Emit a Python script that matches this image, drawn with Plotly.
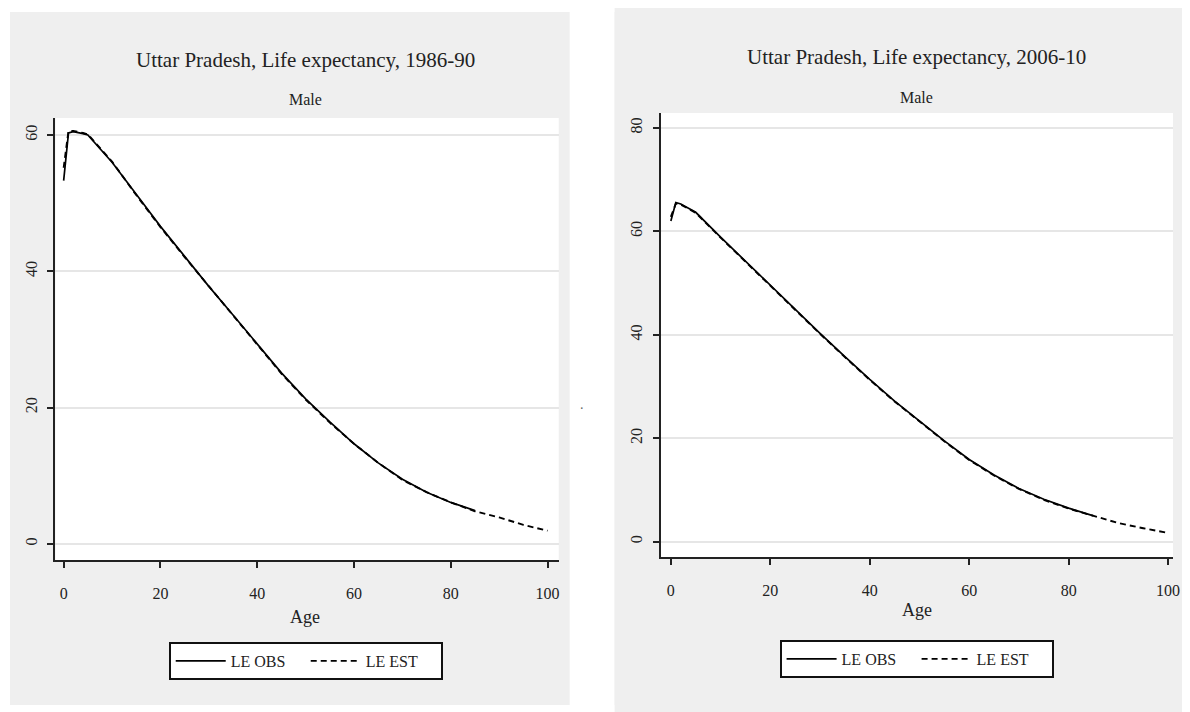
import plotly.graph_objects as go

# ---------------- data ----------------
ages_obs = [0, 1, 2, 3, 4, 5, 10, 15, 20, 25, 30, 35, 40, 45, 50, 55, 60, 65, 70, 75, 80, 85]
ages_est = [0, 1, 2, 3, 4, 5, 10, 15, 20, 25, 30, 35, 40, 45, 50, 55, 60, 65, 70, 75, 80, 85, 90, 95, 100]

# 1986-90, male
le_obs_1986 = [53.3, 60.3, 60.5, 60.4, 60.2, 60.0, 56.0, 51.3, 46.6, 42.2, 37.8, 33.6, 29.3, 25.1,
               21.3, 17.9, 14.7, 11.9, 9.5, 7.6, 6.1, 4.9]
le_est_1986 = [55.2, 60.6, 60.6, 60.5, 60.3, 60.1, 56.1, 51.2, 46.5, 42.1, 37.8, 33.5, 29.2, 25.0,
               21.2, 17.8, 14.7, 11.9, 9.4, 7.6, 6.1, 4.8, 3.9, 2.8, 1.95]

# 2006-10, male
le_obs_2006 = [62.0, 65.6, 65.3, 64.8, 64.2, 63.7, 58.9, 54.2, 49.5, 44.9, 40.3, 35.8, 31.4, 27.2,
               23.3, 19.5, 15.9, 12.9, 10.3, 8.2, 6.5, 5.0]
le_est_2006 = [62.8, 65.4, 65.2, 64.7, 64.2, 63.6, 58.8, 54.1, 49.4, 44.8, 40.2, 35.7, 31.3, 27.1,
               23.2, 19.4, 15.8, 12.8, 10.2, 8.1, 6.4, 5.0, 3.6, 2.6, 1.7]

x_ticks = [0, 20, 40, 60, 80, 100]
y_ticks_left = [0, 20, 40, 60]
y_ticks_right = [0, 20, 40, 60, 80]

titles = ["Uttar Pradesh, Life expectancy, 1986-90", "Uttar Pradesh, Life expectancy, 2006-10"]
subtitle = "Male"
x_title = "Age"
series_names = ["LE OBS", "LE EST"]

# ---------------- figure ----------------
# the page body has an 8px default margin, so the figure is drawn 8px in from the window edge
OFF = 8
W, H = 1190 - OFF, 712 - OFF
FONT = "Liberation Serif"
TXT = "#222222"
PANEL = "#efefef"

def px(x):
    return (x - OFF) / W

def py(y):
    return 1 - (y - OFF) / H

fig = go.Figure()

solid = dict(color="black", width=1.7)
dashed = dict(color="black", width=1.9, dash="6px,4px")

fig.add_trace(go.Scatter(x=ages_obs, y=le_obs_1986, mode="lines", line=solid,
                         name=series_names[0], xaxis="x", yaxis="y", legend="legend"))
fig.add_trace(go.Scatter(x=ages_est, y=le_est_1986, mode="lines", line=dashed,
                         name=series_names[1], xaxis="x", yaxis="y", legend="legend"))
fig.add_trace(go.Scatter(x=ages_obs, y=le_obs_2006, mode="lines", line=solid,
                         name=series_names[0], xaxis="x2", yaxis="y2", legend="legend2"))
fig.add_trace(go.Scatter(x=ages_est, y=le_est_2006, mode="lines", line=dashed,
                         name=series_names[1], xaxis="x2", yaxis="y2", legend="legend2"))

common_x = dict(tickvals=x_ticks, showgrid=False, zeroline=False, showline=True,
                linecolor="#222", linewidth=2, ticks="outside", ticklen=6, tickwidth=2,
                tickcolor="#222", tickfont=dict(family=FONT, size=16, color=TXT),
                ticklabelstandoff=12, ticklabeloverflow="allow")
common_y = dict(showgrid=True, gridcolor="#e6e6e6", gridwidth=1.5, zeroline=False,
                showline=True, linecolor="#222", linewidth=2, ticks="outside", ticklen=6,
                tickwidth=2, tickcolor="#222", tickangle=-90,
                tickfont=dict(family=FONT, size=16, color=TXT), ticklabelstandoff=4)

legend_common = dict(orientation="h", xanchor="center", yanchor="middle",
                     bgcolor="white", bordercolor="#111", borderwidth=2,
                     font=dict(family=FONT, size=16, color=TXT), itemwidth=50,
                     entrywidth=70, traceorder="normal")

white_strip = dict(type="rect", xref="paper", yref="paper", fillcolor="white",
                   line=dict(width=0), layer="below")

fig.update_layout(
    width=W, height=H,
    margin=dict(l=0, r=0, t=0, b=0),
    paper_bgcolor=PANEL,
    plot_bgcolor="white",
    showlegend=True,
    xaxis=dict(domain=[px(55.7), px(562)], range=[-1.7, 102.3], anchor="y", **common_x),
    yaxis=dict(domain=[py(560), py(118)], range=[-2.35, 62.5], anchor="x",
               tickvals=y_ticks_left, **common_y),
    xaxis2=dict(domain=[px(664.6), px(1180)], range=[-2.04, 101.0], anchor="y2", **common_x),
    yaxis2=dict(domain=[py(557), py(113)], range=[-2.96, 82.9], anchor="x2",
                tickvals=y_ticks_right, **common_y),
    legend=dict(x=px(307.5), y=py(661), **legend_common),
    legend2=dict(x=px(922), y=py(659), **legend_common),
    shapes=[
        dict(x0=0, x1=px(10), y0=0, y1=1, **white_strip),
        dict(x0=px(573), x1=px(618), y0=0, y1=1, **white_strip),
        dict(x0=0, x1=px(618), y0=py(12), y1=1, **white_strip),
        dict(x0=0, x1=px(618), y0=0, y1=py(705), **white_strip),
    ],
    annotations=[
        dict(text=titles[0], x=px(307), y=py(60), xref="paper", yref="paper", showarrow=False,
             xanchor="center", yanchor="middle", font=dict(family=FONT, size=21, color=TXT)),
        dict(text=subtitle, x=px(307), y=py(100), xref="paper", yref="paper", showarrow=False,
             xanchor="center", yanchor="middle", font=dict(family=FONT, size=16, color=TXT)),
        dict(text=titles[1], x=px(922), y=py(57), xref="paper", yref="paper", showarrow=False,
             xanchor="center", yanchor="middle", font=dict(family=FONT, size=21, color=TXT)),
        dict(text=subtitle, x=px(922), y=py(98), xref="paper", yref="paper", showarrow=False,
             xanchor="center", yanchor="middle", font=dict(family=FONT, size=16, color=TXT)),
        dict(text=x_title, x=px(307), y=py(617), xref="paper", yref="paper", showarrow=False,
             xanchor="center", yanchor="middle", font=dict(family=FONT, size=18, color=TXT)),
        dict(text=x_title, x=px(922), y=py(610), xref="paper", yref="paper", showarrow=False,
             xanchor="center", yanchor="middle", font=dict(family=FONT, size=18, color=TXT)),
        dict(text=".", x=px(585), y=py(404), xref="paper", yref="paper", showarrow=False,
             xanchor="center", yanchor="middle", font=dict(family=FONT, size=14, color="#666")),
    ],
)

fig.write_html("out.html")
